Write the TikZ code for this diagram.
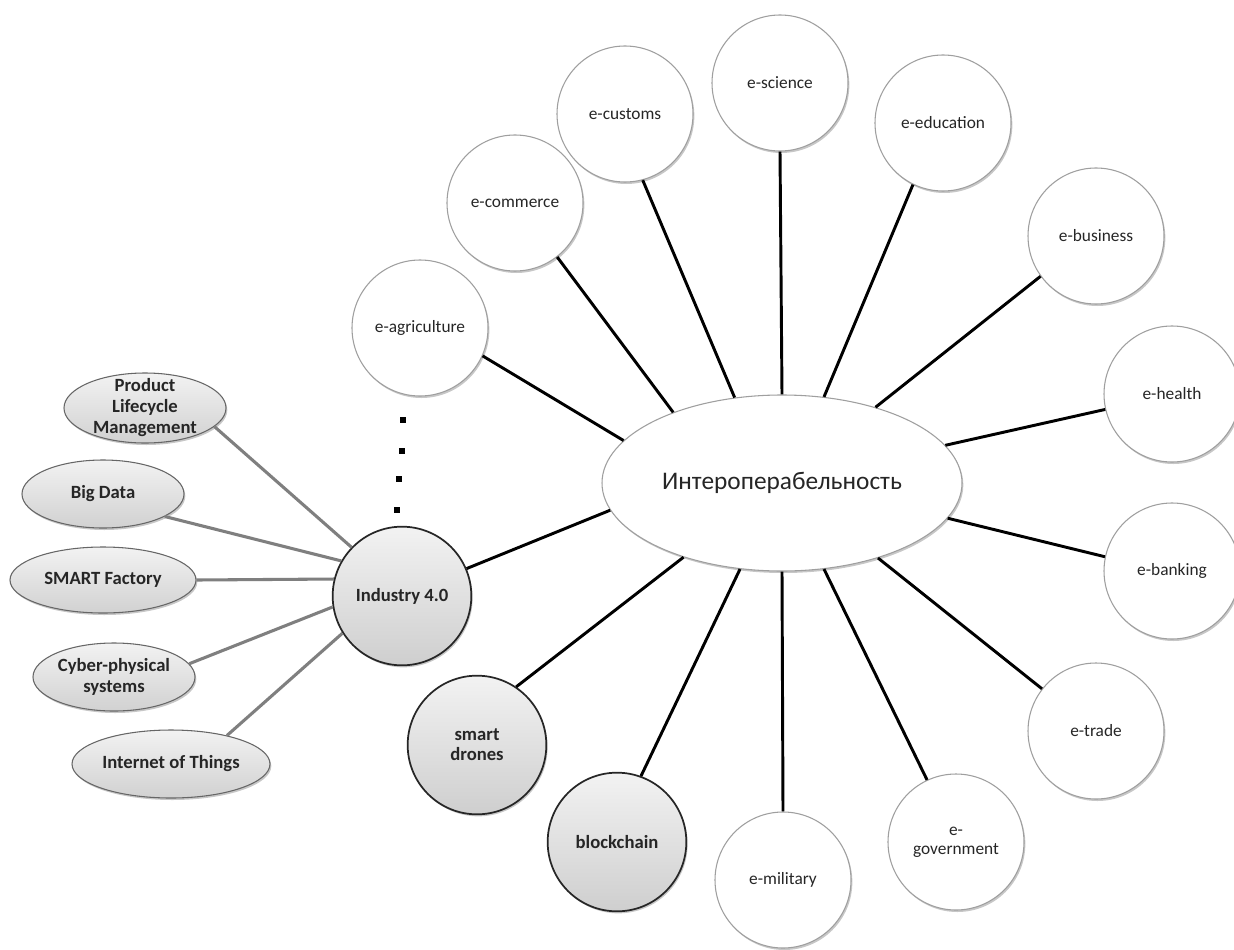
\documentclass[tikz,border=0pt]{standalone}
\usepackage{fontspec}
\setmainfont{Carlito}
\usetikzlibrary{shapes.geometric,shadows}
\definecolor{lineg}{HTML}{7F7F7F}
\definecolor{txt}{HTML}{262626}
\begin{document}
\begin{tikzpicture}[x=0.75pt,y=-0.75pt,
  shd/.style={drop shadow={shadow xshift=1pt,shadow yshift=-1.5pt,opacity=0.22,fill=black}},
  wcirc/.style={circle,draw=gray!75,line width=0.8pt,fill=white,minimum size=102pt,inner sep=0pt,
    font=\fontsize{13}{14}\selectfont,align=center,text=txt,shd},
  gcirc/.style={circle,draw=black!85,line width=1.3pt,top color=gray!10,bottom color=gray!38,
    minimum size=104pt,inner sep=0pt,font=\bfseries\fontsize{14}{15}\selectfont,align=center,text=txt,shd},
  gell/.style={ellipse,draw=black!60,line width=0.8pt,top color=gray!10,bottom color=gray!36,inner sep=0pt,shd},
  glab/.style={font=\bfseries\fontsize{14}{15.75}\selectfont,align=center,text=txt},
  blk/.style={line width=2.2pt,black},
  gry/.style={line width=2.3pt,lineg},
  dotsq/.style={fill=black,minimum size=3.8pt,inner sep=0pt}
]
\fill[white] (0,0) rectangle (1234,949);
\useasboundingbox (0,0) rectangle (1234,949);

% central ellipse
\node[ellipse,draw=gray!75,line width=0.8pt,fill=white,minimum width=270pt,minimum height=132pt,
  inner sep=0pt,font=\fontsize{19}{22}\selectfont,text=txt,shd] (ell) at (782,483) {Интероперабельность};

% white circles
\node[wcirc] (esci) at (780,83)   {e-science};
\node[wcirc] (ecus) at (625,114)  {e-customs};
\node[wcirc] (eedu) at (943,123)  {e-education};
\node[wcirc] (ecom) at (515,203)  {e-commerce};
\node[wcirc] (eagr) at (420,328)  {e-agriculture};
\node[wcirc] (ebus) at (1096,236) {e-business};
\node[wcirc] (ehea) at (1172,394) {e-health};
\node[wcirc] (eban) at (1172,571) {e-banking};
\node[wcirc] (etra) at (1096,731) {e-trade};
\node[wcirc] (egov) at (956,842)  {e-\\government};
\node[wcirc] (emil) at (783,880)  {e-military};

% grey circles
\node[gcirc] (ind)  at (402,596) {Industry 4.0};
\node[gcirc] (smar) at (477,745) {smart\\drones};
\node[gcirc] (bloc) at (617,842) {blockchain};

% grey ellipses
\node[gell,minimum width=121.5pt,minimum height=52.5pt] (plm) at (145,408)
  {\phantom{x}};
\node[glab] at (plm.center) {Product\\Lifecycle\\Management};
\node[gell,minimum width=121.5pt,minimum height=51pt,label={[glab]center:Big Data}] (bd) at (103,494) {};
\node[gell,minimum width=139.5pt,minimum height=49.5pt,label={[glab]center:SMART Factory}] (sf) at (103,580) {};
\node[gell,minimum width=121.5pt,minimum height=51pt,label={[glab]center:Cyber-physical\\systems}] (cps) at (114,677) {};
\node[gell,minimum width=148.5pt,minimum height=51pt,label={[glab]center:Internet of Things}] (iot) at (171,764) {};

% dots
\node[dotsq] (d1) at (403,420) {};
\node[dotsq] (d2) at (402,451) {};
\node[dotsq] (d3) at (399,479) {};
\node[dotsq] (d4) at (397,510) {};

% black connectors
\draw[blk] (ell.165.7) -- (eagr.-24);
\draw[blk] (ell.147.4) -- (ecom.-52);
\draw[blk] (ell.119.6) -- (ecus.-75);
\draw[blk] (ell.north) -- (esci.south);
\draw[blk] (ell.64) -- (eedu.244);
\draw[blk] (ell.39.7) -- (ebus.216);
\draw[blk] (ell.13) -- (ehea.193);
\draw[blk] (ell.-12.5) -- (eban.168);
\draw[blk] (ell.-38.4) -- (etra.142);
\draw[blk] (ell.-64.7) -- (egov.115);
\draw[blk] (ell.south) -- (emil.north);
\draw[blk] (ell.-116) -- (bloc.70);
\draw[blk] (ell.-143.3) -- (smar.56.5);
\draw[blk] (ell.-171.8) -- (ind.23.7);

% grey connectors
\draw[gry] (plm.-15) -- (ind.136);
\draw[gry] (bd.-20.6) -- (ind.150.6);
\draw[gry] (sf.east) -- (ind.166);
\draw[gry] (cps.10.7) -- (ind.189);
\draw[gry] (iot.27) -- (ind.212);
\end{tikzpicture}
\end{document}
